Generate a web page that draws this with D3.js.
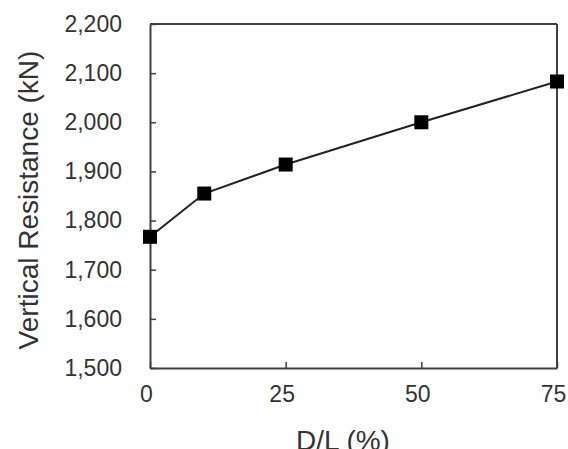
<!DOCTYPE html>
<html><head><meta charset="utf-8">
<script src="https://cdn.jsdelivr.net/npm/d3@7"></script>
<style>html,body{margin:0;padding:0;background:#fff;overflow:hidden}</style>
</head><body><svg id="c" width="568" height="449"></svg>
<script>
const dlPercent = [0, 10, 25, 50, 75];
const resistance = [1767, 1855, 1914, 2000, 2083];
const xTicks = [0, 25, 50, 75];
const yTicks = [1500, 1600, 1700, 1800, 1900, 2000, 2100, 2200];

const svg = d3.select("#c");
const L = 150, R = 557, T = 24, B = 368;
const x = d3.scaleLinear().domain([0, 75]).range([L, R]);
const y = d3.scaleLinear().domain([1500, 2200]).range([B, T]);
const col = "#404040";
const font = "Liberation Sans, Arial, sans-serif";

const fmt = d3.format(",");
const ya = svg.append("g").attr("transform", `translate(${L},0)`)
  .call(d3.axisLeft(y).tickValues(yTicks).tickFormat(fmt).tickSizeInner(-6).tickSizeOuter(0).tickPadding(28));
const xa = svg.append("g").attr("transform", `translate(0,${B})`)
  .call(d3.axisBottom(x).tickValues(xTicks).tickSizeInner(-6).tickSizeOuter(0).tickPadding(18));
[ya, xa].forEach(a => {
  a.select(".domain").attr("stroke", col).attr("stroke-width", 2);
  a.selectAll(".tick line").attr("stroke", col).attr("stroke-width", 1.5);
  a.selectAll("text").attr("font-family", font).attr("font-size", 23).attr("fill", "#333");
});
xa.selectAll(".tick text").attr("dx", -4);
// top and right border
svg.append("line").attr("x1", L).attr("x2", R).attr("y1", T).attr("y2", T).attr("stroke", col).attr("stroke-width", 2);
svg.append("line").attr("x1", R).attr("x2", R).attr("y1", T).attr("y2", B).attr("stroke", col).attr("stroke-width", 2);

const pts = dlPercent.map((d, i) => [d, resistance[i]]);
svg.append("path").datum(pts)
  .attr("d", d3.line().x(d => x(d[0])).y(d => y(d[1])))
  .attr("fill", "none").attr("stroke", "#222").attr("stroke-width", 2);
const s = 14;
svg.selectAll("rect.m").data(pts).enter().append("rect")
  .attr("x", d => x(d[0]) - s / 2).attr("y", d => y(d[1]) - s / 2)
  .attr("width", s).attr("height", s).attr("fill", "#000");

svg.append("text").attr("transform", `translate(38,200) rotate(-90)`)
  .attr("text-anchor", "middle").attr("font-family", font).attr("font-size", 28).attr("fill", "#333")
  .text("Vertical Resistance (kN)");
svg.append("text").attr("x", 343).attr("y", 450)
  .attr("text-anchor", "middle").attr("font-family", font).attr("font-size", 28).attr("fill", "#333")
  .text("D/L (%)");
</script></body></html>
